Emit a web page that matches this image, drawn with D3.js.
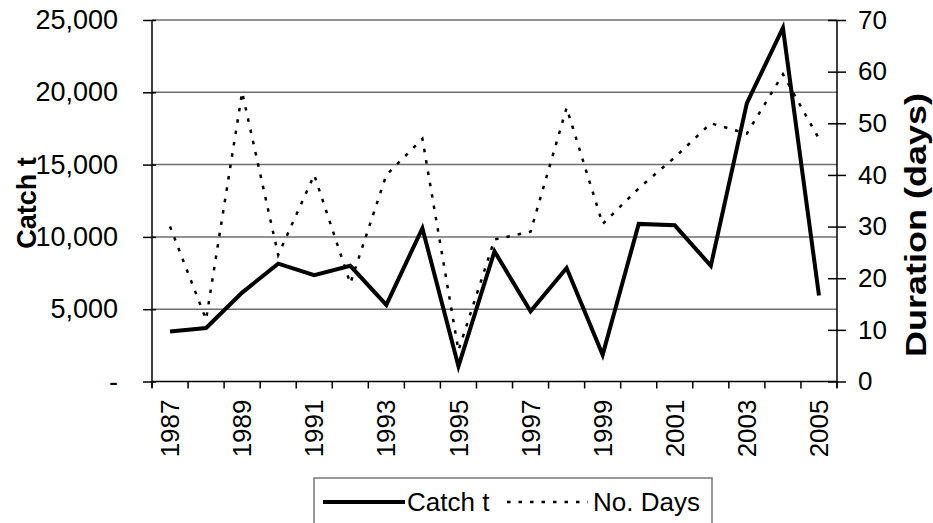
<!DOCTYPE html>
<html>
<head>
<meta charset="utf-8">
<script src="https://cdn.jsdelivr.net/npm/d3@7"></script>
<style>
  html, body { margin: 0; padding: 0; background: #fff; }
  svg { display: block; font-family: "Liberation Sans", Arial, sans-serif; }
</style>
</head>
<body>
<svg id="chart" width="933" height="523"></svg>
<script>
// Season data, 1987–2005
const years = [1987, 1988, 1989, 1990, 1991, 1992, 1993, 1994, 1995, 1996,
               1997, 1998, 1999, 2000, 2001, 2002, 2003, 2004, 2005];
const catchT = [3450, 3700, 6150, 8150, 7350, 8000, 5300, 10600, 1050, 9000,
                4850, 7850, 1850, 10900, 10800, 8000, 19250, 24450, 5950];
const noDays = [30, 12, 56, 24.5, 40, 19, 40, 47, 6, 27.5,
                29, 53, 30.5, 37.4, 43.4, 50, 48, 59.5, 47];
const catchTicks = [0, 5000, 10000, 15000, 20000, 25000];
const dayTicks = [0, 10, 20, 30, 40, 50, 60, 70];
const yearLabels = [1987, 1989, 1991, 1993, 1995, 1997, 1999, 2001, 2003, 2005];

const svg = d3.select("#chart");
const plot = { left: 152, right: 837, top: 20, bottom: 381.5 };
const FS = 26;

const x = d3.scaleBand().domain(years).range([plot.left, plot.right]).padding(0);
const yL = d3.scaleLinear().domain([0, 25000]).range([plot.bottom, plot.top]);
const yR = d3.scaleLinear().domain([0, 70]).range([plot.bottom, plot.top]);
const cx = d => x(d) + x.bandwidth() / 2;

// horizontal gridlines on the catch scale
svg.append("g")
  .selectAll("line")
  .data(catchTicks.filter(v => v > 0))
  .join("line")
  .attr("x1", plot.left).attr("x2", plot.right)
  .attr("y1", d => yL(d)).attr("y2", d => yL(d))
  .attr("stroke", "#6e6e6e").attr("stroke-width", 1.5);

// left axis
const fmtCatch = v => v === 0 ? "-" : d3.format(",")(v);
const gL = svg.append("g")
  .attr("transform", `translate(${plot.left},0)`)
  .call(d3.axisLeft(yL).tickValues(catchTicks).tickFormat(fmtCatch)
        .tickSizeInner(9).tickSizeOuter(0).tickPadding(25));
gL.selectAll(".tick line").attr("x2", -9).attr("x1", 4);
gL.select(".domain").attr("d", `M0,${plot.top}V${plot.bottom + 6}`);

// right axis
const gR = svg.append("g")
  .attr("transform", `translate(${plot.right},0)`)
  .call(d3.axisRight(yR).tickValues(dayTicks)
        .tickSizeInner(9).tickSizeOuter(0).tickPadding(12));
gR.selectAll(".tick line").attr("x1", -9).attr("x2", 9);
gR.select(".domain").attr("d", `M0,${plot.top}V${plot.bottom + 6}`);

// bottom axis: boundary ticks plus rotated year labels
const gB = svg.append("g");
gB.append("line")
  .attr("x1", plot.left).attr("x2", plot.right)
  .attr("y1", plot.bottom).attr("y2", plot.bottom)
  .attr("stroke", "#000").attr("stroke-width", 1.5);
gB.selectAll("line.tk")
  .data(years.concat([null]))
  .join("line").attr("class", "tk")
  .attr("x1", d => d === null ? plot.right : x(d))
  .attr("x2", d => d === null ? plot.right : x(d))
  .attr("y1", plot.bottom).attr("y2", plot.bottom + 7)
  .attr("stroke", "#000").attr("stroke-width", 1.5);
gB.selectAll("text")
  .data(yearLabels)
  .join("text")
  .attr("transform", d => `translate(${cx(d)},${plot.bottom + 18}) rotate(-90)`)
  .attr("dy", "0.35em")
  .attr("text-anchor", "end")
  .attr("font-size", FS)
  .text(d => d);

svg.selectAll(".domain").attr("stroke", "#000").attr("stroke-width", 1.5);
svg.selectAll(".tick line").attr("stroke", "#000").attr("stroke-width", 1.5);
svg.selectAll(".tick text").attr("font-size", FS).attr("fill", "#000")
  .attr("font-family", "Liberation Sans, Arial, sans-serif");
gL.selectAll(".tick text").attr("font-size", 27);

// series lines
const lineDays = d3.line().x((d, i) => cx(years[i])).y(d => yR(d));
const lineCatch = d3.line().x((d, i) => cx(years[i])).y(d => yL(d));

svg.append("path")
  .datum(noDays)
  .attr("d", lineDays)
  .attr("fill", "none")
  .attr("stroke", "#000")
  .attr("stroke-width", 2.5)
  .attr("stroke-dasharray", "3.5,8");

svg.append("path")
  .datum(catchT)
  .attr("d", lineCatch)
  .attr("fill", "none")
  .attr("stroke", "#000")
  .attr("stroke-width", 4)
  .attr("stroke-linejoin", "miter");

// axis titles
svg.append("text")
  .attr("transform", `translate(27,203) rotate(-90)`)
  .attr("dy", "0.35em")
  .attr("text-anchor", "middle")
  .attr("font-size", 27).attr("font-weight", "bold")
  .text("Catch t");

svg.append("text")
  .attr("transform", `translate(915,225) rotate(-90)`)
  .attr("dy", "0.35em")
  .attr("text-anchor", "middle")
  .attr("font-size", 30).attr("font-weight", "bold")
  .attr("textLength", 264).attr("lengthAdjust", "spacingAndGlyphs")
  .text("Duration (days)");

// legend
const leg = svg.append("g");
leg.append("rect")
  .attr("x", 314).attr("y", 478).attr("width", 398).attr("height", 60)
  .attr("fill", "#fff").attr("stroke", "#777").attr("stroke-width", 1.5);
leg.append("line")
  .attr("x1", 323).attr("x2", 405).attr("y1", 502).attr("y2", 502)
  .attr("stroke", "#000").attr("stroke-width", 4);
leg.append("text")
  .attr("x", 407).attr("y", 502).attr("dy", "0.35em")
  .attr("font-size", FS).text("Catch t");
leg.append("line")
  .attr("x1", 507).attr("x2", 588).attr("y1", 502).attr("y2", 502)
  .attr("stroke", "#000").attr("stroke-width", 2.5)
  .attr("stroke-dasharray", "3.5,8");
leg.append("text")
  .attr("x", 593).attr("y", 502).attr("dy", "0.35em")
  .attr("font-size", FS).text("No. Days");
</script>
</body>
</html>
